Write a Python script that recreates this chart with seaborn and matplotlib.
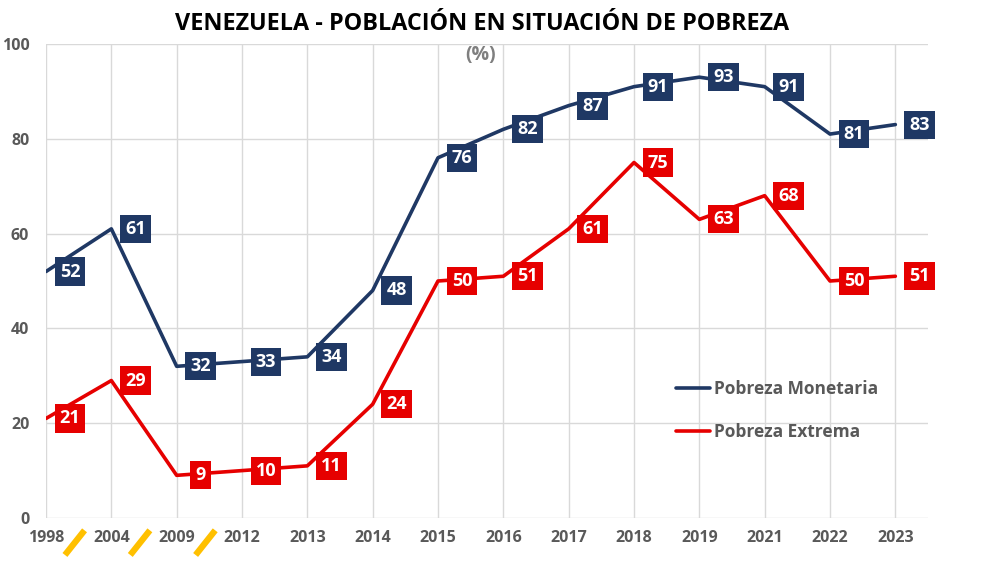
import matplotlib
matplotlib.use("Agg")
import matplotlib.pyplot as plt
import seaborn as sns
import pandas as pd
import numpy as np

years = ["1998", "2004", "2009", "2012", "2013", "2014", "2015", "2016",
         "2017", "2018", "2019", "2021", "2022", "2023"]
monetaria = [52, 61, 32, 33, 34, 48, 76, 82, 87, 91, 93, 91, 81, 83]
extrema = [21, 29, 9, 10, 11, 24, 50, 51, 61, 75, 63, 68, 50, 51]
series_names = ["Pobreza Monetaria", "Pobreza Extrema"]
yticks = [0, 20, 40, 60, 80, 100]
break_after = [0, 1, 2]  # axis breaks between these categories and the next

NAVY = "#1F3864"
RED = "#E60000"
GRAY = "#595959"

sns.set_theme(style="white")
plt.rcParams['font.family'] = ['Open Sans', 'DejaVu Sans']

pos = np.arange(len(years))
df = pd.DataFrame({
    "pos": np.concatenate([pos, pos]),
    "value": monetaria + extrema,
    "serie": [series_names[0]] * len(years) + [series_names[1]] * len(years),
})

fig = plt.figure(figsize=(9.84, 5.70), dpi=100)
ax = fig.add_axes([46 / 984, 1 - 518 / 570, (928 - 46) / 984, (518 - 44) / 570])

sns.lineplot(data=df, x="pos", y="value", hue="serie",
             palette={series_names[0]: NAVY, series_names[1]: RED},
             linewidth=2.6, ax=ax, legend=True)

ax.set_xlim(0, len(years) - 0.5)
ax.set_ylim(0, 100)
ax.set_xticks(pos)
ax.set_xticklabels(years)
ax.set_yticks(yticks)
ax.set_xlabel("")
ax.set_ylabel("")
for s in ax.spines.values():
    s.set_visible(False)
ax.grid(True, color="#D9D9D9", linewidth=1)
ax.set_axisbelow(True)
ax.tick_params(axis="both", length=0, labelsize=11.5, labelcolor=GRAY)
for t in ax.get_xticklabels() + ax.get_yticklabels():
    t.set_fontweight("bold")
ax.tick_params(axis="x", pad=9)
ax.tick_params(axis="y", pad=12)

# data labels offset to the right of points
from matplotlib.transforms import offset_copy
lab_tr = offset_copy(ax.transData, fig=fig, x=24, y=0, units="dots")
for vals, col in [(monetaria, NAVY), (extrema, RED)]:
    for p, v in zip(pos, vals):
        ax.text(p, v, f"{v}", transform=lab_tr, ha="center", va="center",
                color="white", fontsize=13, fontweight="bold",
                bbox=dict(boxstyle="square,pad=0.28", fc=col, ec="none"),
                zorder=5, clip_on=False)

# axis-break slashes
for b in break_after:
    xm = b + 0.44
    ax.plot([xm - 0.15, xm + 0.15], [-7.8, -2.6], color="#FFC000",
            linewidth=4.5, clip_on=False, solid_capstyle="butt")

# legend
leg = ax.legend(loc="upper left", bbox_to_anchor=(660 / 984, 1 - 364 / 570),
                bbox_transform=fig.transFigure, frameon=False,
                handlelength=2.0, handletextpad=0.2, labelspacing=1.45,
                fontsize=12.5)
for t in leg.get_texts():
    t.set_color(GRAY)
    t.set_fontweight("bold")

fig.text(482 / 984, 1 - 24 / 570, "VENEZUELA - POBLACIÓN EN SITUACIÓN DE POBREZA",
         ha="center", va="center", fontsize=16.8, fontweight="bold", color="black")
fig.text(481 / 984, 1 - 55 / 570, "(%)", ha="center", va="center",
         fontsize=14, fontweight="bold", color="#7F7F7F")

fig.savefig("out.png", dpi=100, facecolor="white")
